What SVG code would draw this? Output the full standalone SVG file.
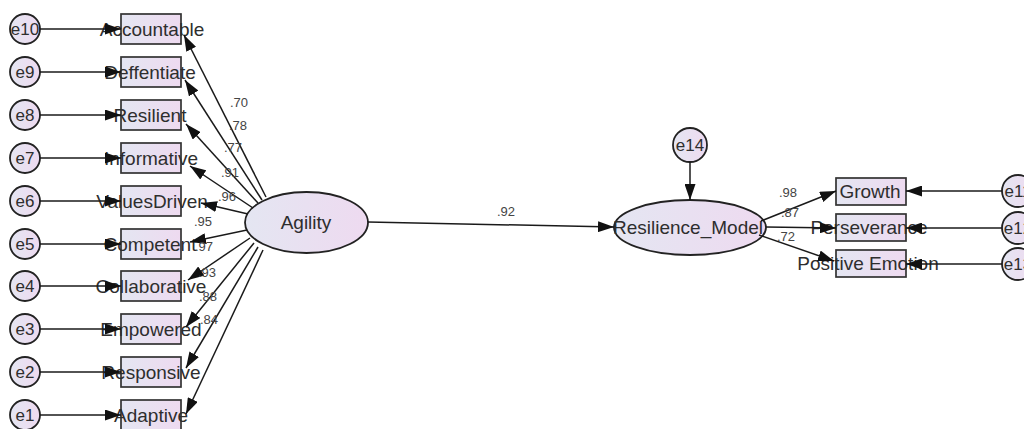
<svg xmlns="http://www.w3.org/2000/svg" width="1024" height="429" viewBox="0 0 1024 429">
<defs>
<linearGradient id="fillg" x1="0" y1="0" x2="1" y2="0">
<stop offset="0" stop-color="#e4e6f2"/>
<stop offset="1" stop-color="#eedaf0"/>
</linearGradient>
<marker id="ah" viewBox="0 0 16 11" refX="16" refY="5.5" markerWidth="16" markerHeight="11" markerUnits="userSpaceOnUse" orient="auto">
<path d="M0,0 L16,5.5 L0,11 Z" fill="#111"/>
</marker>
<style>
.box{fill:url(#fillg);stroke:#333;stroke-width:1.7}
.lat{fill:url(#fillg);stroke:#222;stroke-width:1.8}
.err{fill:url(#fillg);stroke:#222;stroke-width:1.8}
.lbl{font-family:"Liberation Sans",Arial,sans-serif;font-size:19px;fill:#2e2e2e;text-anchor:middle}
.elbl{font-family:"Liberation Sans",Arial,sans-serif;font-size:17px;fill:#2e2e2e;text-anchor:middle}
.num{font-family:"Liberation Sans",Arial,sans-serif;font-size:13px;fill:#444;text-anchor:middle}
.c{stroke:#1a1a1a;stroke-width:1.5;fill:none;marker-end:url(#ah)}
</style>
</defs>
<rect width="1024" height="429" fill="#ffffff"/>

<g id="e10"><circle class="err" cx="25" cy="29" r="15"/><text class="elbl" x="25" y="35">e10</text></g>
<g id="e9"><circle class="err" cx="25" cy="72" r="15"/><text class="elbl" x="25" y="78">e9</text></g>
<g id="e8"><circle class="err" cx="25" cy="115" r="15"/><text class="elbl" x="25" y="121">e8</text></g>
<g id="e7"><circle class="err" cx="25" cy="158" r="15"/><text class="elbl" x="25" y="164">e7</text></g>
<g id="e6"><circle class="err" cx="25" cy="201" r="15"/><text class="elbl" x="25" y="207">e6</text></g>
<g id="e5"><circle class="err" cx="25" cy="244" r="15"/><text class="elbl" x="25" y="250">e5</text></g>
<g id="e4"><circle class="err" cx="25" cy="286" r="15"/><text class="elbl" x="25" y="292">e4</text></g>
<g id="e3"><circle class="err" cx="25" cy="329" r="15"/><text class="elbl" x="25" y="335">e3</text></g>
<g id="e2"><circle class="err" cx="25" cy="372" r="15"/><text class="elbl" x="25" y="378">e2</text></g>
<g id="e1"><circle class="err" cx="25" cy="415" r="15"/><text class="elbl" x="25" y="421">e1</text></g>

<g id="Accountable"><rect class="box" x="121" y="14" width="60" height="30"/><text class="lbl" x="152" y="36">Accountable</text></g>
<g id="Deffentiate"><rect class="box" x="121" y="57" width="60" height="30"/><text class="lbl" x="150" y="79">Deffentiate</text></g>
<g id="Resilient"><rect class="box" x="121" y="100" width="60" height="30"/><text class="lbl" x="150" y="122">Resilient</text></g>
<g id="Informative"><rect class="box" x="121" y="143" width="60" height="30"/><text class="lbl" x="151" y="165">Informative</text></g>
<g id="ValuesDriven"><rect class="box" x="121" y="186" width="60" height="30"/><text class="lbl" x="152" y="208">ValuesDriven</text></g>
<g id="Competent"><rect class="box" x="121" y="229" width="60" height="30"/><text class="lbl" x="150" y="251">Competent</text></g>
<g id="Collaborative"><rect class="box" x="121" y="271" width="60" height="30"/><text class="lbl" x="151" y="293">Collaborative</text></g>
<g id="Empowered"><rect class="box" x="121" y="314" width="60" height="30"/><text class="lbl" x="151" y="336">Empowered</text></g>
<g id="Responsive"><rect class="box" x="121" y="357" width="60" height="30"/><text class="lbl" x="151" y="379">Responsive</text></g>
<g id="Adaptive"><rect class="box" x="121" y="400" width="60" height="30"/><text class="lbl" x="151" y="422">Adaptive</text></g>

<g id="Agility"><ellipse class="lat" cx="306.5" cy="222.5" rx="61.5" ry="30.5"/><text class="lbl" x="306" y="229">Agility</text></g>

<g id="e14"><circle class="err" cx="690" cy="145" r="17"/><text class="elbl" x="690" y="151">e14</text></g>
<g id="Resilience_Model"><ellipse class="lat" cx="690" cy="227.5" rx="76" ry="27.5"/><text class="lbl" x="688" y="234">Resilience_Model</text></g>

<g id="Growth"><rect class="box" x="836" y="178" width="70" height="27"/><text class="lbl" x="870" y="198">Growth</text></g>
<g id="Perseverance"><rect class="box" x="836" y="214" width="70" height="27"/><text class="lbl" x="869" y="234">Perseverance</text></g>
<g id="Positive_Emotion"><rect class="box" x="836" y="250" width="70" height="27"/><text class="lbl" x="868" y="270">Positive Emotion</text></g>

<g id="e11"><circle class="err" cx="1018" cy="191" r="16"/><text class="elbl" x="1018" y="197">e11</text></g>
<g id="e12"><circle class="err" cx="1018" cy="228" r="16"/><text class="elbl" x="1018" y="234">e12</text></g>
<g id="e13"><circle class="err" cx="1018" cy="264" r="16"/><text class="elbl" x="1018" y="270">e13</text></g>

<g id="connectors">
<line class="c" x1="40" y1="29" x2="121" y2="29"/>
<line class="c" x1="40" y1="72" x2="121" y2="72"/>
<line class="c" x1="40" y1="115" x2="121" y2="115"/>
<line class="c" x1="40" y1="158" x2="121" y2="158"/>
<line class="c" x1="40" y1="201" x2="121" y2="201"/>
<line class="c" x1="40" y1="244" x2="121" y2="244"/>
<line class="c" x1="40" y1="286" x2="121" y2="286"/>
<line class="c" x1="40" y1="329" x2="121" y2="329"/>
<line class="c" x1="40" y1="372" x2="121" y2="372"/>
<line class="c" x1="40" y1="415" x2="121" y2="415"/>

<line class="c" x1="266" y1="197" x2="184" y2="35"/>
<line class="c" x1="262" y1="200" x2="185" y2="80"/>
<line class="c" x1="258" y1="203" x2="186" y2="124"/>
<line class="c" x1="253" y1="208" x2="190" y2="166"/>
<line class="c" x1="248" y1="214" x2="201" y2="203"/>
<line class="c" x1="247" y1="230" x2="190" y2="242"/>
<line class="c" x1="250" y1="238" x2="188" y2="280"/>
<line class="c" x1="254" y1="243" x2="186" y2="327"/>
<line class="c" x1="258" y1="247" x2="186" y2="368"/>
<line class="c" x1="263" y1="250" x2="186" y2="414"/>

<line class="c" x1="368" y1="222" x2="614" y2="227"/>
<line class="c" x1="690" y1="162" x2="690" y2="200"/>

<line class="c" x1="761" y1="221" x2="836" y2="191"/>
<line class="c" x1="766" y1="227" x2="836" y2="228"/>
<line class="c" x1="759" y1="235" x2="834" y2="261"/>

<line class="c" x1="1002" y1="191" x2="906" y2="191"/>
<line class="c" x1="1002" y1="228" x2="906" y2="228"/>
<line class="c" x1="1002" y1="264" x2="906" y2="264"/>
</g>

<g id="coefficients">
<text class="num" x="239" y="107">.70</text>
<text class="num" x="238" y="130">.78</text>
<text class="num" x="233" y="152">.77</text>
<text class="num" x="230" y="177">.91</text>
<text class="num" x="227" y="201">.96</text>
<text class="num" x="203" y="226">.95</text>
<text class="num" x="204" y="251">.97</text>
<text class="num" x="207" y="277">.93</text>
<text class="num" x="208" y="301">.88</text>
<text class="num" x="209" y="324">.84</text>
<text class="num" x="506" y="216">.92</text>
<text class="num" x="788" y="197">.98</text>
<text class="num" x="790" y="217">.87</text>
<text class="num" x="786" y="241">.72</text>
</g>
</svg>
